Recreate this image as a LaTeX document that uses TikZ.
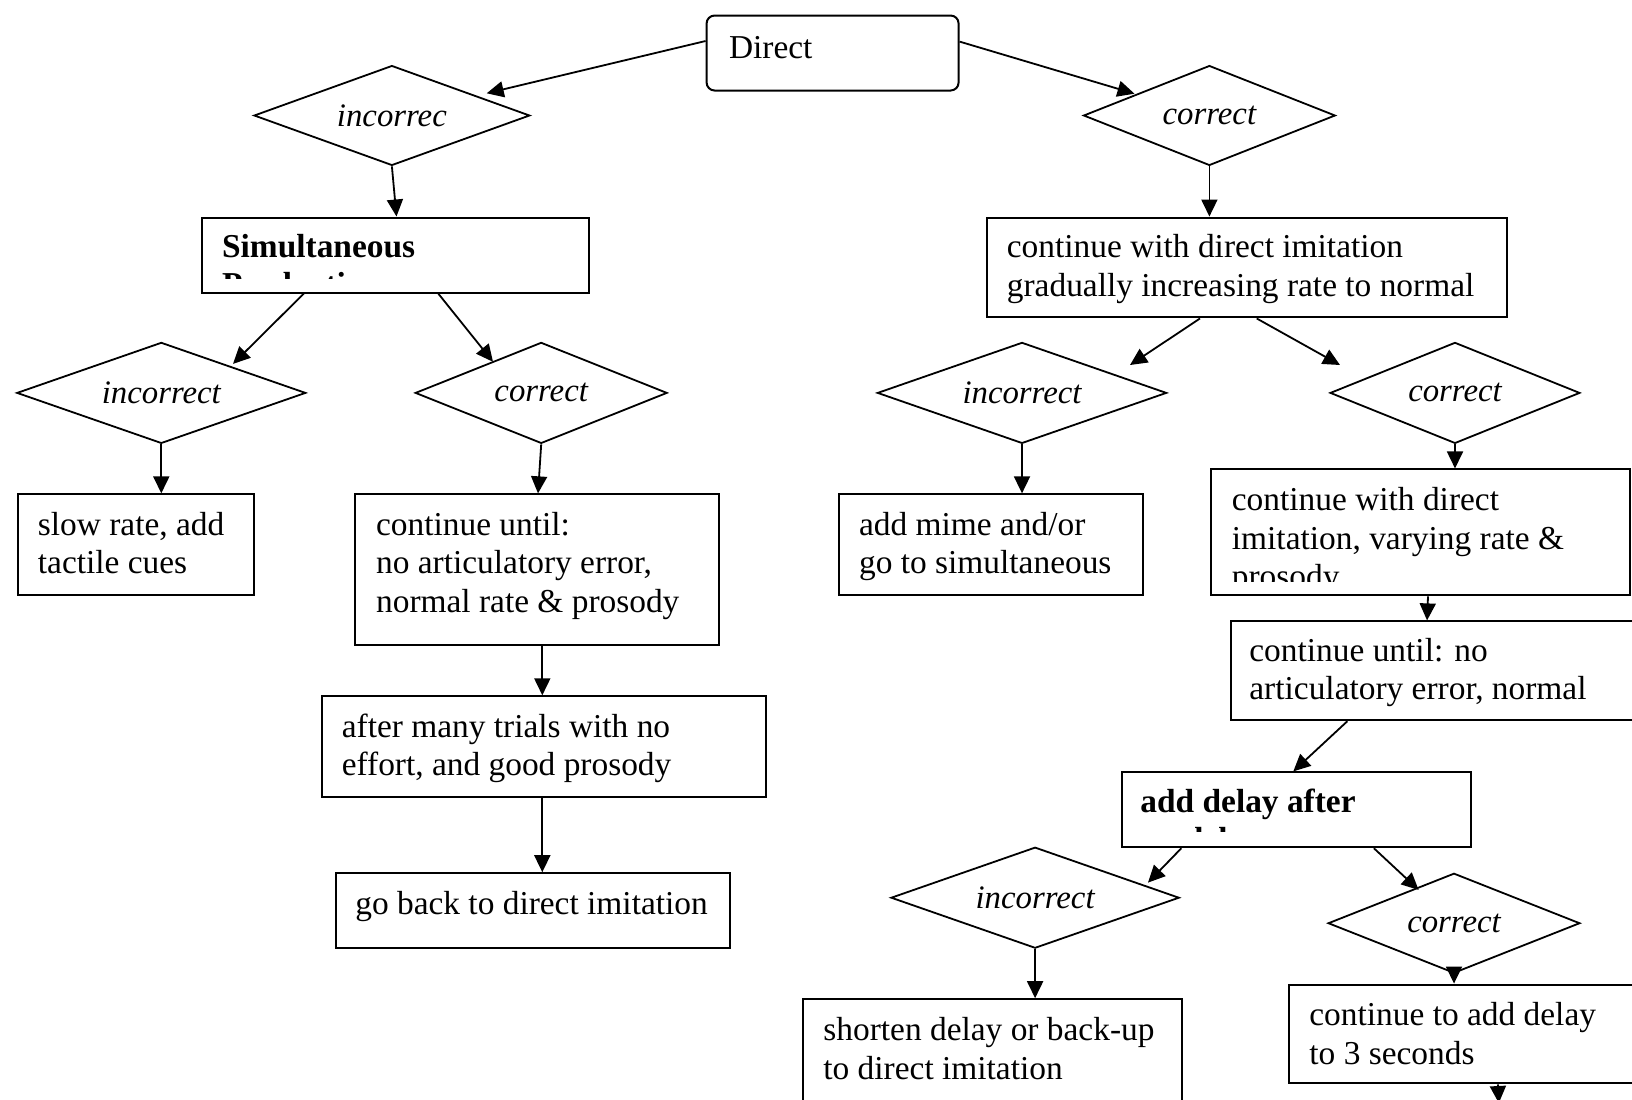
\documentclass[tikz,border=0pt]{standalone}
\usepackage{fontspec}
\setmainfont{Liberation Serif}
\usetikzlibrary{shapes.geometric,arrows.meta,calc}
\begin{document}
\begin{tikzpicture}[x=0.5pt,y=-0.5pt,
  bx/.style 2 args={draw, line width=1pt, rectangle, inner sep=0pt, minimum width=#1*0.5pt, minimum height=#2*0.5pt},
  dia/.style 2 args={draw, line width=0.9pt, diamond, shape aspect=2.8, inner sep=0pt, minimum width=#1*0.5pt, minimum height=#2*0.5pt, font=\fontsize{16.4}{19.3}\selectfont\itshape},
  txt/.style={inner sep=0pt, anchor=north west, align=left, font=\fontsize{16.7}{19.3}\selectfont},
  arr/.style={line width=0.9pt, -{Triangle[length=8.5pt,width=8pt]}}
]
\useasboundingbox (0,0) rectangle (1632,1099);
\clip (0,0) rectangle (1632,1099);

% boxes
\node[bx={252}{75}, rounded corners=4pt] (direct) at (832.6,53) {};
\node[bx={387.2}{75}] (simul) at (395.5,255) {};
\node[bx={236.3}{100.9}] (slow) at (135.8,544.8) {};
\node[bx={364.3}{150.9}] (cu) at (537,569.8) {};
\node[bx={444.4}{101}] (after) at (543.8,746.8) {};
\node[bx={393.4}{75}] (goback) at (532.9,910.7) {};
\node[bx={520.4}{99.9}] (cwd) at (1246.9,267.5) {};
\node[bx={303.9}{100.9}] (mime) at (990.9,544.8) {};
\node[bx={419.4}{125.9}] (cwd2) at (1420.2,532.4) {};
\node[bx={428.7}{98.8}] (cu2) at (1445.7,670.8) {};
\node[bx={348.6}{74.9}] (delay) at (1296.3,809.8) {};
\node[bx={379.8}{120.8}] (shorten) at (992.4,1059.6) {};
\node[bx={371.5}{98.9}] (cta) at (1474.3,1034) {};

% diamonds
\node[dia={275.8}{99.9}] (DL) at (391.9,115.5) {incorrec};
\node[dia={251.8}{99.9}] (DR) at (1209.4,115.5) {correct};
\node[dia={289}{101}] (L2a) at (161.3,392.9) {incorrect};
\node[dia={251.9}{101}] (L2b) at (541.2,392.9) {correct};
\node[dia={289.3}{101}] (R2a) at (1022,392.9) {incorrect};
\node[dia={249.8}{101}] (R2b) at (1455,392.9) {correct};
\node[dia={288.2}{101}] (R3a) at (1035.1,897.7) {incorrect};
\node[dia={251.8}{99.9}] (R3b) at (1454,923.2) {correct};

% texts
\node[txt] (tdirect) at (728.6,31) {\strut Direct};
\begin{scope}
  \clip (202,217.5) rectangle (589,278);
  \node[txt] (tsimul) at (221.7,229.7) {\strut\bfseries Simultaneous\\\bfseries Production};
\end{scope}
\node[txt] (tslow) at (37.5,507.9) {\strut slow rate, add\\tactile cues};
\node[txt] (tcu) at (375.7,507.9) {\strut continue until:\\no articulatory error,\\normal rate \& prosody};
\node[txt] (tafter) at (341.4,709.8) {\strut after many trials with no\\effort, and good prosody};
\node[txt] (tgoback) at (354.9,886.7) {\strut go back to direct imitation};
\node[txt] (tcwd) at (1006.5,230) {\strut continue with direct imitation\\gradually increasing rate to normal};
\node[txt] (tmime) at (858.7,507.9) {\strut add mime and/or\\go to simultaneous};
\begin{scope}
  \clip (1210,469) rectangle (1630,581);
  \node[txt] (tcwd2) at (1231.5,483) {\strut continue with direct\\imitation, varying rate \&\\prosody};
\end{scope}
\node[txt] (tcu2) at (1249,633.8) {\strut continue until: no\\articulatory error, normal};
\begin{scope}
  \clip (1122,772) rectangle (1470,831);
  \node[txt] (tdelay) at (1140,784.7) {\strut\bfseries add delay after\\\bfseries model};
\end{scope}
\node[txt] (tshorten) at (823,1013) {\strut shorten delay or back-up\\to direct imitation};
\node[txt] (tcta) at (1309,998) {\strut continue to add delay\\to 3 seconds};

% connectors
\draw[arr] ($(direct.west)+(0,-12)$) -- ($(DL.center)+(94.8,-22.2)$);
\draw[arr] ($(direct.east)+(0,-11.4)$) -- ($(DR.center)+(-74.9,-21.8)$);
\draw[arr] (DL.south) -- ($(simul.north)+(1,0)$);
\draw[arr] ($(simul.south)+(-91.6,0)$) -- ($(L2a.center)+(71.7,-29)$);
\draw[arr] ($(simul.south)+(42.7,0)$) -- ($(L2b.center)+(-48.2,-31.1)$);
\draw[arr] (L2a.south) -- (L2a.south |- slow.north);
\draw[arr] (L2b.south) -- ($(cu.north)+(1,0)$);
\draw[arr] ($(cu.south)+(5.3,0)$) -- ($(after.north)+(-1.5,0)$);
\draw[arr] ($(after.south)+(-1.5,0)$) -- ($(goback.north)+(9.4,0)$);
\draw[arr] (DR.south) -- (DR.south |- cwd.north);
\draw[arr] ($(cwd.south)+(-46.9,0)$) -- ($(R2a.center)+(108,-27.9)$);
\draw[arr] ($(cwd.south)+(9.8,0)$) -- ($(R2b.center)+(-115,-27.9)$);
\draw[arr] (R2a.south) -- (R2a.south |- mime.north);
\draw[arr] (R2b.south) -- (R2b.south |- cwd2.north);
\draw[arr] ($(cwd2.south)+(7.8,0)$) -- ($(cu2.north west)+(196.7,0)$);
\draw[arr] ($(cu2.south west)+(117,0)$) -- ($(delay.north)+(-3,0)$);
\draw[arr] ($(delay.south)+(-115,0)$) -- ($(R3a.center)+(112.9,-15.1)$);
\draw[arr] ($(delay.south)+(77.6,0)$) -- ($(R3b.center)+(-35.4,-33.3)$);
\draw[arr] (R3a.south) -- (R3a.south |- shorten.north);
\draw[arr] (R3b.south) -- (R3b.south |- cta.north);
\coordinate (ctaend) at (1498.8,1103);
\draw[arr] ($(cta.south west)+(210.3,0)$) -- (ctaend);
\end{tikzpicture}
\end{document}
